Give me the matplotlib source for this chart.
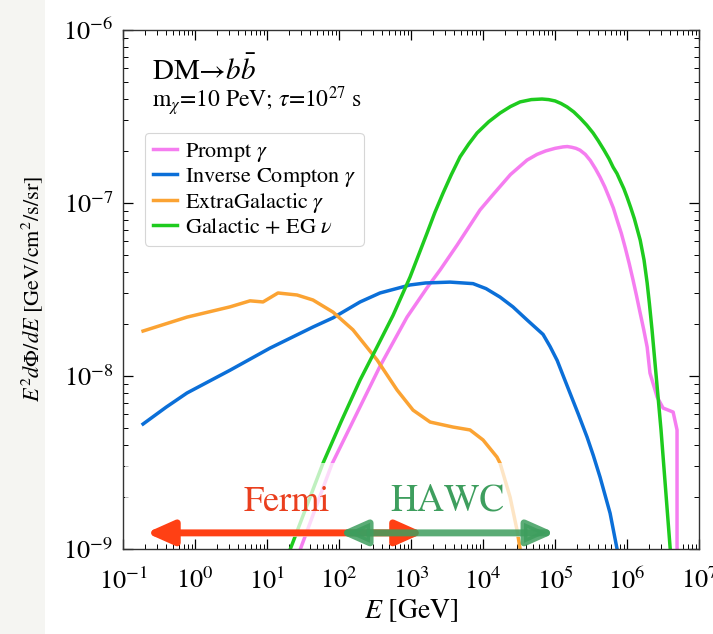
import matplotlib
matplotlib.use("Agg")
import matplotlib.pyplot as plt
from matplotlib.patches import Rectangle
import matplotlib.ticker as mticker
import numpy as np

plt.rcParams['font.family'] = ['STIXGeneral', 'DejaVu Serif']
plt.rcParams['mathtext.fontset'] = 'stix'

# Spectra: energy [GeV] and E^2 dPhi/dE [GeV/cm^2/s/sr]
prompt_E = [28.7, 79.4, 371, 879, 1670, 2530, 4360, 9080, 1.38e4, 2.40e4, 4.08e4, 5.62e4,
            7.41e4, 1.0e5, 1.29e5, 1.48e5, 1.70e5, 1.95e5, 2.22e5, 2.63e5, 3.09e5, 3.63e5,
            4.22e5, 4.90e5, 5.62e5, 6.46e5, 7.26e5, 8.32e5, 9.44e5, 1.07e6, 1.21e6, 1.35e6,
            1.51e6, 1.70e6, 1.90e6, 2.08e6, 2.61e6, 3.16e6, 4.36e6, 4.94e6, 4.94e6, 5.10e6]
prompt_F = [9.86e-10, 3.09e-9, 1.14e-8, 2.19e-8, 3.24e-8, 4.10e-8, 5.71e-8, 9.12e-8, 1.12e-7, 1.46e-7, 1.77e-7, 1.91e-7,
            2.00e-7, 2.07e-7, 2.11e-7, 2.12e-7, 2.10e-7, 2.07e-7, 2.02e-7, 1.91e-7, 1.76e-7, 1.58e-7,
            1.41e-7, 1.24e-7, 1.08e-7, 9.33e-8, 7.98e-8, 6.68e-8, 5.50e-8, 4.47e-8, 3.59e-8, 2.92e-8,
            2.34e-8, 1.86e-8, 1.47e-8, 1.04e-8, 7.57e-9, 6.53e-9, 6.19e-9, 4.88e-9, 1.03e-9, 7.6e-10]

ic_E = [0.19, 0.398, 0.774, 3.06, 11.0, 43.5, 82.6, 196, 371, 968, 1590, 3480, 7260, 1.10e4,
        1.72e4, 2.60e4, 4.08e4, 6.81e4, 8.53e4, 1.07e5, 1.30e5, 1.61e5, 2.10e5, 2.78e5,
        3.40e5, 4.22e5, 5.81e5, 7.26e5, 7.94e5]
ic_F = [5.28e-9, 6.61e-9, 7.98e-9, 1.08e-8, 1.45e-8, 1.92e-8, 2.17e-8, 2.68e-8, 3.02e-8, 3.36e-8, 3.45e-8, 3.49e-8, 3.42e-8, 3.20e-8,
        2.86e-8, 2.51e-8, 2.11e-8, 1.74e-8, 1.48e-8, 1.23e-8, 1.0e-8, 7.98e-9, 6.03e-9, 4.44e-9,
        3.47e-9, 2.60e-9, 1.61e-9, 1.0e-9, 7.6e-10]

eg_E = [0.19, 0.774, 3.06, 5.81, 8.80, 14.2, 26.1, 43.5, 82.6, 156, 337, 640, 1067,
        1840, 3830, 6590, 1.0e4, 1.56e4, 1.72e4, 2.37e4, 2.96e4, 3.27e4, 3.5e4]
eg_F = [1.82e-8, 2.19e-8, 2.51e-8, 2.72e-8, 2.68e-8, 3.02e-8, 2.94e-8, 2.75e-8, 2.34e-8, 1.85e-8, 1.24e-8, 8.30e-9, 6.35e-9,
        5.42e-9, 5.07e-9, 4.88e-9, 4.27e-9, 3.40e-9, 3.14e-9, 2.0e-9, 1.29e-9, 1.0e-9, 7.6e-10]

nu_E = [20.8, 60.0, 108, 196, 331, 562, 968, 1670, 2140, 2780, 3630, 4800, 6310, 8260,
        1.20e4, 1.72e4, 2.40e4, 3.27e4, 4.68e4, 6.59e4, 8.13e4, 1.0e5, 1.21e5, 1.47e5,
        1.82e5, 2.24e5, 2.75e5, 3.37e5, 3.98e5, 4.79e5, 5.62e5, 6.40e5, 7.24e5, 8.13e5,
        9.02e5, 1.0e6, 1.12e6, 1.26e6, 1.38e6, 1.52e6, 1.72e6, 1.90e6, 2.04e6, 2.22e6,
        2.96e6, 3.95e6, 4.22e6]
nu_F = [9.86e-10, 3.14e-9, 5.50e-9, 9.48e-9, 1.45e-8, 2.24e-8, 3.73e-8, 6.71e-8, 8.81e-8, 1.14e-7, 1.46e-7, 1.85e-7, 2.19e-7, 2.54e-7,
        2.95e-7, 3.31e-7, 3.61e-7, 3.84e-7, 3.96e-7, 3.99e-7, 3.96e-7, 3.89e-7, 3.76e-7, 3.59e-7,
        3.36e-7, 3.09e-7, 2.82e-7, 2.54e-7, 2.29e-7, 2.02e-7, 1.80e-7, 1.61e-7, 1.48e-7, 1.33e-7,
        1.21e-7, 1.08e-7, 9.44e-8, 8.13e-8, 7.08e-8, 6.11e-8, 4.68e-8, 3.45e-8, 2.63e-8, 1.85e-8,
        4.88e-9, 1.03e-9, 7.6e-10]

# Experimental energy ranges [GeV]
fermi_range = [0.21, 1.5e3]
hawc_range = [100, 1.0e5]
range_level = 1.24e-9
fermi_label_pos = (19.0, 1.87e-9)
hawc_label_pos = (3160, 1.90e-9)

fig = plt.figure(figsize=(7.13, 6.34), dpi=100)
fig.patch.set_facecolor('white')
fig.add_artist(Rectangle((0, 0), 0.063, 1, transform=fig.transFigure,
                         facecolor='#f5f5f2', edgecolor='none', zorder=-10))

ax = fig.add_axes([0.1725, 0.134, 0.808, 0.8187])
ax.set_xscale('log')
ax.set_yscale('log')
ax.set_xlim(1e-1, 1e7)
ax.set_ylim(1e-9, 1e-6)

lw = 2.5
ax.plot(prompt_E, prompt_F, color='#F57DF0', lw=lw, label=r'Prompt $\gamma$', zorder=2)
ax.plot(ic_E, ic_F, color='#0B6FD8', lw=lw, label=r'Inverse Compton $\gamma$', zorder=2)
ax.plot(eg_E, eg_F, color='#FBA333', lw=lw, label=r'ExtraGalactic $\gamma$', zorder=2)
ax.plot(nu_E, nu_F, color='#1ECB1E', lw=lw, label=r'Galactic + EG $\nu$', zorder=2)

# translucent band behind the experiment labels
ax.add_patch(Rectangle((0.004, 0.023), 0.756, 0.143, transform=ax.transAxes,
                       facecolor='white', edgecolor='none', alpha=0.72, zorder=3))

arrow_style = '<|-|>,head_length=0.9,head_width=0.4'
ax.annotate('', xy=(fermi_range[1], range_level), xytext=(fermi_range[0], range_level),
            arrowprops=dict(arrowstyle=arrow_style, color='#FF4014', lw=5,
                            mutation_scale=18, shrinkA=0, shrinkB=0), zorder=4)
ax.annotate('', xy=(hawc_range[1], range_level), xytext=(hawc_range[0], range_level),
            arrowprops=dict(arrowstyle=arrow_style, color='#3E9E5E', lw=5, alpha=0.85,
                            mutation_scale=18, shrinkA=0, shrinkB=0), zorder=5)
ax.text(*fermi_label_pos, 'Fermi', color='#EA3F1E', fontsize=26,
        ha='center', va='center', zorder=6)
ax.text(*hawc_label_pos, 'HAWC', color='#3E9E5E', fontsize=27,
        ha='center', va='center', zorder=6)

ax.text(0.05, 0.904, r'DM→$b\bar{b}$', transform=ax.transAxes, fontsize=21,
        ha='left', va='baseline')
ax.text(0.05, 0.849, r'm$_\chi$=10 PeV; $\tau$=10$^{27}$ s', transform=ax.transAxes,
        fontsize=17, ha='left', va='baseline')

leg = ax.legend(loc='upper left', bbox_to_anchor=(0.038, 0.8015), fontsize=16,
                handlelength=1.1, handletextpad=0.35, labelspacing=0.1,
                borderpad=0.35, borderaxespad=0, frameon=True, fancybox=True)
leg.get_frame().set_edgecolor('#cccccc')
leg.get_frame().set_linewidth(0.8)

ax.tick_params(which='both', direction='in', top=True, right=True, labelsize=19)
ax.tick_params(which='major', length=7, width=0.9)
ax.tick_params(which='minor', length=3.5, width=0.7)
ax.tick_params(axis='x', which='major', pad=14)
ax.tick_params(axis='y', which='major', pad=7)
ax.xaxis.set_major_locator(mticker.LogLocator(base=10, numticks=20))
ax.xaxis.set_minor_locator(mticker.LogLocator(base=10, subs=np.arange(2, 10), numticks=20))
for s in ax.spines.values():
    s.set_linewidth(1.0)
    s.set_color('#333333')
    s.set_zorder(7)

ax.set_xlabel(r'$E$ [GeV]', fontsize=20, labelpad=2)
ax.set_ylabel(r'$E^2 d\Phi/dE$ [GeV/cm$^2$/s/sr]', fontsize=16)
ax.yaxis.set_label_coords(-0.135, 0.5)

fig.savefig('out.png', dpi=100)
